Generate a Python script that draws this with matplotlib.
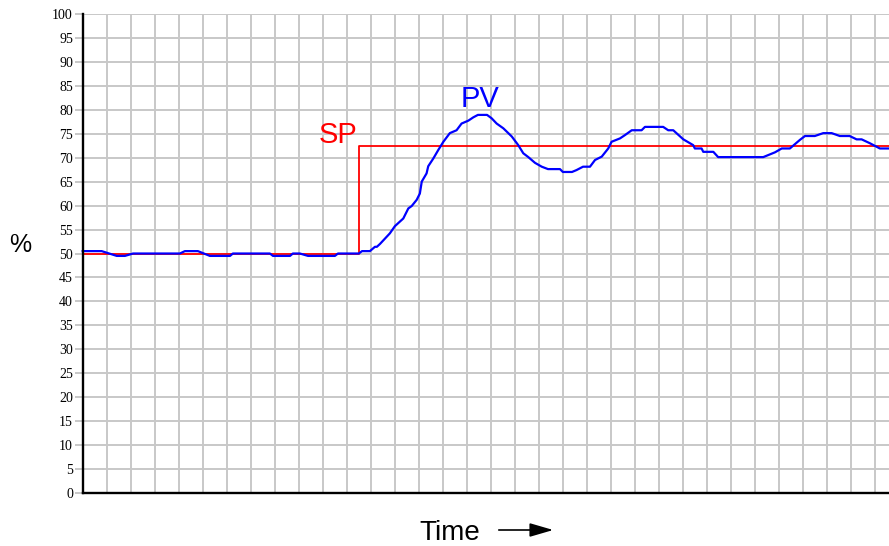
import numpy as np
import matplotlib.pyplot as plt

# Time in chart divisions, values in percent
sp_time = [0.0, 11.5, 11.5, 33.6]
sp_value = [50.0, 50.0, 72.5, 72.5]

pv_time = [0.0, 0.79, 1.42, 1.76, 2.10, 4.05, 4.26, 4.80, 5.30, 6.14, 6.26, 7.80,
           7.93, 8.64, 8.76, 9.05, 9.39, 10.51, 10.64, 11.51, 11.64, 11.97, 12.18,
           12.26, 12.39, 12.80, 13.01, 13.36, 13.57, 13.71, 13.92, 14.05, 14.13,
           14.33, 14.40, 14.61, 14.82, 15.03, 15.30, 15.58, 15.79, 16.07, 16.28,
           16.47, 16.85, 17.04, 17.25, 17.53, 17.88, 18.15, 18.36, 18.57, 18.85,
           19.13, 19.39, 19.89, 20.01, 20.39, 20.58, 20.85, 21.14, 21.35, 21.63,
           21.90, 22.04, 22.39, 22.60, 22.88, 23.29, 23.43, 24.19, 24.40, 24.61,
           25.03, 25.44, 25.51, 25.79, 25.86, 26.28, 26.48, 28.36, 28.85, 29.13,
           29.47, 29.68, 29.89, 30.10, 30.51, 30.86, 31.21, 31.55, 31.96, 32.25,
           32.46, 32.80, 33.22, 33.60]
pv_value = [50.5, 50.5, 49.5, 49.5, 50.0, 50.0, 50.5, 50.5, 49.5, 49.5, 50.0, 50.0,
            49.5, 49.5, 50.0, 50.0, 49.5, 49.5, 50.0, 50.0, 50.5, 50.5, 51.4,
            51.4, 52.0, 54.2, 55.7, 57.3, 59.4, 59.9, 61.2, 62.5, 65.0,
            66.7, 68.2, 69.8, 71.6, 73.3, 75.1, 75.7, 77.1, 77.7, 78.4,
            78.9, 78.9, 78.2, 77.1, 76.1, 74.4, 72.6, 70.9, 70.1, 68.9,
            68.1, 67.6, 67.6, 67.0, 67.0, 67.4, 68.1, 68.1, 69.5, 70.2,
            71.9, 73.3, 74.0, 74.7, 75.7, 75.7, 76.4, 76.4, 75.7, 75.7,
            73.8, 72.6, 71.9, 71.9, 71.2, 71.2, 70.1, 70.1, 71.1, 71.9,
            71.9, 72.8, 73.7, 74.5, 74.5, 75.1, 75.1, 74.5, 74.5, 73.8,
            73.8, 73.0, 71.9, 71.9]

y_ticks = list(range(0, 101, 5))

fig = plt.figure(figsize=(8.89, 5.46), dpi=100)
ax = fig.add_axes([0.093, 0.0965, 0.907, 0.8784])

ax.set_xlim(0, 33.6)
ax.set_ylim(0, 100)
ax.set_xticks(np.arange(0, 34, 1))
ax.set_yticks(y_ticks)
ax.set_xticklabels([])
ax.set_yticklabels([str(v) for v in y_ticks], family='Liberation Serif', fontsize=10)
ax.tick_params(axis='x', length=0)
ax.tick_params(axis='y', length=6, width=1.4, color='#c8c8c8', pad=1)
ax.grid(True, color='#c8c8c8', linewidth=1.4)
ax.set_axisbelow(True)

for side in ['top', 'right']:
    ax.spines[side].set_visible(False)
for side in ['left', 'bottom']:
    ax.spines[side].set_linewidth(1.7)
    ax.spines[side].set_color('black')
    ax.spines[side].set_zorder(5)

ax.plot(sp_time, sp_value, color='#ff0000', linewidth=1.3, zorder=3, clip_on=False)
ax.plot(pv_time, pv_value, color='#0000ff', linewidth=1.6, zorder=4, clip_on=False)

ax.text(10.64, 73.0, 'SP', color='#ff0000', fontsize=21, ha='center', va='baseline',
        family='Liberation Sans')
ax.text(16.55, 80.6, 'PV', color='#0000ff', fontsize=21, ha='center', va='baseline',
        family='Liberation Sans')

fig.text(20 / 889, 1 - 245 / 546, '%', fontsize=18, ha='center', va='center',
         family='Liberation Sans')
fig.text(450 / 889, 1 - 540 / 546, 'Time', fontsize=20, ha='center', va='baseline',
         family='Liberation Sans')
fig.patches.append(plt.matplotlib.patches.FancyArrowPatch(
    (496 / 889, 1 - 530 / 546), (556 / 889, 1 - 530 / 546),
    transform=fig.transFigure, arrowstyle='-|>,head_length=1.2,head_width=0.35',
    mutation_scale=12, color='black', linewidth=1.2))

fig.savefig('out.png', dpi=100)
